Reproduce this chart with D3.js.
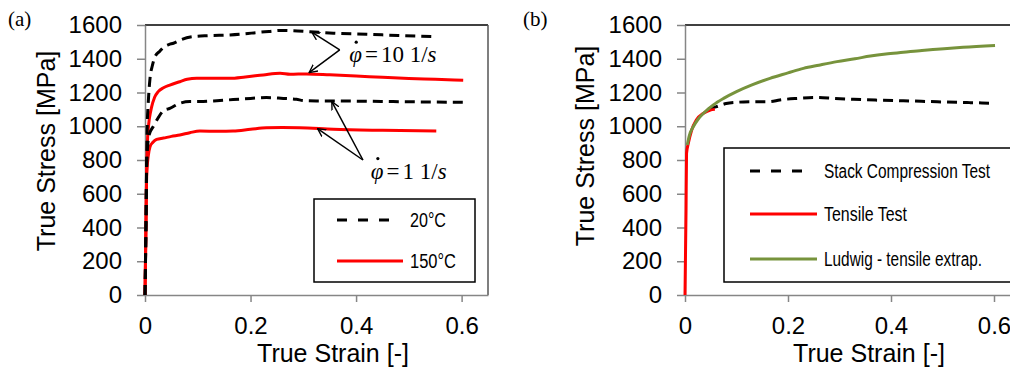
<!DOCTYPE html>
<html>
<head>
<meta charset="utf-8">
<script src="https://cdn.jsdelivr.net/npm/d3@7"></script>
<style>
  html, body { margin: 0; padding: 0; background: #fff; }
  svg { display: block; }
  .tick text { font-family: "Liberation Sans", Arial, sans-serif; font-size: 24px; fill: #000; }
  .tick line { stroke: #868686; stroke-width: 1.5; }
  .domain { stroke: #868686; stroke-width: 1.5; }
</style>
</head>
<body>
<svg id="chart" width="1010" height="368"></svg>
<script>
// axis ticks
const strainTicks = [0, 0.2, 0.4, 0.6];
const stressTicks = [0, 200, 400, 600, 800, 1000, 1200, 1400, 1600];

// panel (a): [strain, stress MPa]
const c20Rate10 = [[0,0],[0.002,450],[0.003,750],[0.004,980],[0.006,1130],[0.0095,1284],[0.014,1360],
  [0.019,1412],[0.028,1445],[0.035,1468],[0.045,1484],[0.054,1492],[0.07,1515],[0.091,1531],[0.12,1537],
  [0.161,1541],[0.19,1548],[0.211,1555],[0.235,1562],[0.256,1568],[0.28,1566],[0.312,1560],[0.357,1551],
  [0.42,1545],[0.48,1538],[0.552,1531]];
const c150Rate10 = [[0,0],[0.002,450],[0.003,700],[0.0045,900],[0.006,978],[0.0127,1116],[0.018,1170],
  [0.025,1205],[0.035,1228],[0.047,1244],[0.066,1264],[0.08,1278],[0.098,1284],[0.13,1284],[0.161,1284],
  [0.19,1292],[0.224,1304],[0.256,1314],[0.275,1308],[0.306,1310],[0.35,1305],[0.4,1298],[0.45,1290],
  [0.5,1283],[0.55,1278],[0.603,1272]];
const c20Rate1 = [[0,0],[0.002,450],[0.003,750],[0.005,880],[0.008,950],[0.016,1000],[0.025,1050],
  [0.035,1092],[0.047,1106],[0.066,1136],[0.085,1146],[0.104,1146],[0.13,1150],[0.167,1158],[0.2,1165],
  [0.23,1170],[0.262,1165],[0.287,1160],[0.30,1152],[0.325,1150],[0.357,1150],[0.42,1148],[0.5,1145],
  [0.603,1142]];
const c150Rate1 = [[0,0],[0.002,450],[0.003,700],[0.006,820],[0.0095,879],[0.015,905],[0.022,922],
  [0.035,930],[0.05,940],[0.066,948],[0.085,962],[0.104,972],[0.14,970],[0.167,972],[0.2,982],[0.23,991],
  [0.26,992],[0.293,991],[0.357,982],[0.45,976],[0.552,972]];

// panel (b)
const stackCompression = [[0.045,1104],[0.06,1115],[0.08,1135],[0.1,1142],[0.13,1145],[0.165,1146],
  [0.184,1156],[0.22,1165],[0.255,1170],[0.29,1165],[0.327,1160],[0.37,1155],[0.424,1151],[0.49,1145],
  [0.553,1140],[0.602,1136]];
const tensileTest = [[0,0],[0.002,500],[0.003,840],[0.0065,899],[0.013,978],[0.022,1037],[0.036,1077],
  [0.048,1095],[0.058,1100]];
const ludwigExtrap = [[0.0045,889],[0.008,940],[0.016,997],[0.025,1040],[0.036,1077],[0.055,1126],
  [0.075,1165],[0.10,1205],[0.13,1245],[0.165,1284],[0.2,1316],[0.23,1343],[0.26,1362],[0.295,1383],
  [0.33,1400],[0.36,1416],[0.39,1428],[0.424,1438],[0.46,1449],[0.489,1456],[0.54,1468],[0.602,1479]];

// annotations (data coords): label anchor, arrow origin, arrow targets
const rateNotes = [
  { rate: '10 1/', at: [0.387, 1380], from: [0.369, 1452], to: [[0.316, 1558], [0.311, 1318]] },
  { rate: '1 1/',  at: [0.428, 690],  from: [0.413, 800],  to: [[0.354, 1146], [0.327, 986]] },
];

const RED = '#ff0000', GREEN = '#77933c';
const DASH = '10,6';

const svg = d3.select('#chart');
svg.append('defs').append('marker')
  .attr('id', 'arr').attr('viewBox', '0 -5 10 10')
  .attr('refX', 9).attr('refY', 0)
  .attr('markerWidth', 9).attr('markerHeight', 9)
  .attr('markerUnits', 'userSpaceOnUse')
  .attr('orient', 'auto')
  .append('path').attr('d', 'M0,-4.5L9,0L0,4.5')
  .attr('fill', 'none').attr('stroke', '#000').attr('stroke-width', 1.5);

function panel(opt) {
  const x = d3.scaleLinear().domain([0, 0.65]).range([opt.left, opt.right]);
  const y = d3.scaleLinear().domain([0, 1600]).range([295, 25]);
  const g = svg.append('g');

  // frame
  g.append('line').attr('x1', x(0)).attr('x2', x(0.65)).attr('y1', y(1600)).attr('y2', y(1600))
    .attr('stroke', '#000').attr('stroke-width', 1.5);
  g.append('line').attr('x1', x(0.65)).attr('x2', x(0.65)).attr('y1', y(1600)).attr('y2', y(0))
    .attr('stroke', '#555').attr('stroke-width', 1.5);

  g.append('g').attr('transform', `translate(0,${y(0)})`)
    .call(d3.axisBottom(x).tickValues(strainTicks).tickFormat(d3.format('')).tickSize(7).tickSizeOuter(0).tickPadding(15));
  g.append('g').attr('transform', `translate(${x(0)},0)`)
    .call(d3.axisLeft(y).tickValues(stressTicks).tickFormat(d3.format('d')).tickSize(8).tickSizeOuter(0).tickPadding(15));

  g.append('text').attr('x', opt.xTitle).attr('y', 362).attr('text-anchor', 'middle')
    .attr('font-family', 'Liberation Sans, Arial, sans-serif').attr('font-size', 25)
    .text('True Strain [-]');
  g.append('text').attr('transform', `translate(${opt.yTitleX},${opt.yTitleY}) rotate(-90)`)
    .attr('text-anchor', 'middle')
    .attr('font-family', 'Liberation Sans, Arial, sans-serif').attr('font-size', 25)
    .text('True Stress [MPa]');
  g.append('text').attr('x', opt.tagX).attr('y', 26)
    .attr('font-family', 'Liberation Serif, Times New Roman, serif').attr('font-size', 21)
    .text(opt.tag);

  const line = d3.line().x(d => x(d[0])).y(d => y(d[1])).curve(d3.curveMonotoneX);
  opt.series.forEach(s => {
    g.append('path').datum(s.data).attr('d', line)
      .attr('fill', 'none').attr('stroke', s.color).attr('stroke-width', 3)
      .attr('stroke-dasharray', s.dash || null);
  });
  return { g, x, y };
}

function legend(g, box, entries) {
  g.append('rect').attr('x', box.x).attr('y', box.y).attr('width', box.w).attr('height', box.h)
    .attr('fill', '#fff').attr('stroke', '#000').attr('stroke-width', 1.5);
  entries.forEach(e => {
    g.append('line').attr('x1', box.lineX).attr('x2', e.x2).attr('y1', e.y).attr('y2', e.y)
      .attr('stroke', e.color).attr('stroke-width', 3).attr('stroke-dasharray', e.dash);
    g.append('text').attr('x', box.textX).attr('y', e.y + 7)
      .attr('font-family', 'Liberation Sans, Arial, sans-serif').attr('font-size', 20)
      .attr('textLength', e.w).attr('lengthAdjust', 'spacingAndGlyphs')
      .text(e.label);
  });
}

// ---- panel (a)
const A = panel({
  left: 145, right: 488, xTitle: 333, yTitleX: 55, yTitleY: 151, tagX: 8, tag: '(a)',
  series: [
    { data: c150Rate1, color: RED },
    { data: c150Rate10, color: RED },
    { data: c20Rate1, color: '#000', dash: DASH },
    { data: c20Rate10, color: '#000', dash: DASH },
  ]
});

rateNotes.forEach(n => {
  n.to.forEach(t => {
    A.g.append('line')
      .attr('x1', A.x(n.from[0])).attr('y1', A.y(n.from[1]))
      .attr('x2', A.x(t[0])).attr('y2', A.y(t[1]))
      .attr('stroke', '#000').attr('stroke-width', 1.5)
      .attr('marker-end', 'url(#arr)');
  });
  const px = A.x(n.at[0]), py = A.y(n.at[1]);
  const tx = A.g.append('text').attr('x', px).attr('y', py)
    .attr('font-family', 'Liberation Serif, DejaVu Serif, serif').attr('font-size', 23);
  tx.append('tspan').attr('font-style', 'italic').text('φ');
  tx.append('tspan').attr('dx', 3).text('=');
  tx.append('tspan').attr('dx', 3).text(n.rate);
  tx.append('tspan').attr('font-style', 'italic').text('s');
  // the dot of the rate symbol
  A.g.append('circle').attr('cx', px + 7).attr('cy', py - 20).attr('r', 1.6).attr('fill', '#000');
});

legend(A.g.append('g'), { x: 314, y: 199, w: 161, h: 83, lineX: 337, textX: 410 }, [
  { label: '20°C', color: '#000', dash: '10,11', y: 220, x2: 392, w: 36 },
  { label: '150°C', color: RED, dash: null, y: 261, x2: 403, w: 46 },
]);

// ---- panel (b)
const B = panel({
  left: 685, right: 685 + 0.65 * 515, xTitle: 869, yTitleX: 594, yTitleY: 146, tagX: 523, tag: '(b)',
  series: [
    { data: stackCompression, color: '#000', dash: DASH },
    { data: tensileTest, color: RED },
    { data: ludwigExtrap, color: GREEN },
  ]
});

legend(B.g.append('g'), { x: 724, y: 148, w: 320, h: 134, lineX: 750, textX: 824 }, [
  { label: 'Stack Compression Test', color: '#000', dash: '10,11', y: 171, x2: 805, w: 166 },
  { label: 'Tensile Test', color: RED, dash: null, y: 214, x2: 817, w: 83 },
  { label: 'Ludwig - tensile extrap.', color: GREEN, dash: null, y: 259, x2: 817, w: 158 },
]);
</script>
</body>
</html>
